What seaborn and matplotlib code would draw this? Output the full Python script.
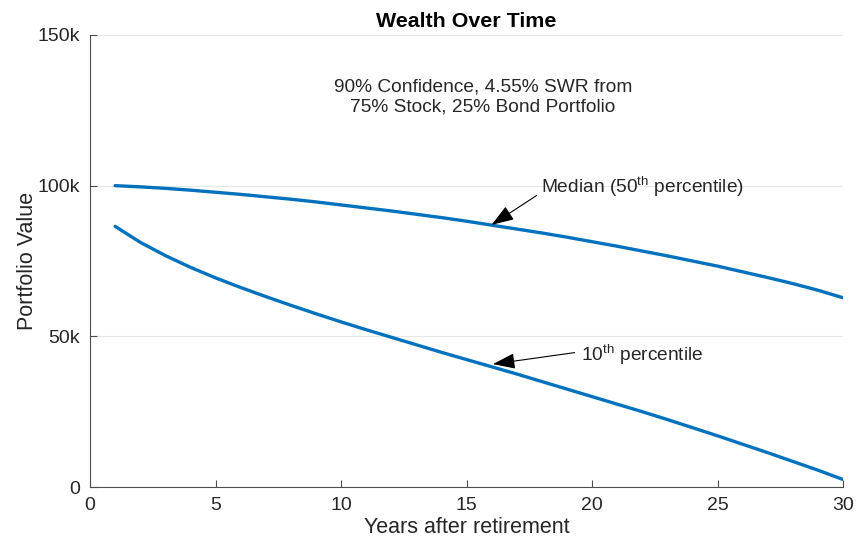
import pandas as pd
import matplotlib
matplotlib.use('Agg')
import matplotlib.pyplot as plt
import seaborn as sns
from matplotlib.ticker import FuncFormatter

years = list(range(1, 31))
median = [100.0, 99.6, 99.1, 98.5, 97.8, 97.1, 96.3, 95.5, 94.6, 93.6,
          92.6, 91.6, 90.5, 89.4, 88.2, 86.9, 85.6, 84.3, 82.9, 81.4,
          79.9, 78.3, 76.7, 75.0, 73.3, 71.4, 69.5, 67.5, 65.3, 62.8]
pct10 = [86.5, 81.2, 76.8, 72.9, 69.4, 66.2, 63.2, 60.3, 57.5, 54.8,
         52.2, 49.7, 47.2, 44.7, 42.3, 39.9, 37.5, 35.0, 32.5, 30.0,
         27.5, 25.0, 22.4, 19.7, 17.0, 14.2, 11.4, 8.5, 5.6, 2.5]

median_k = [v * 1000 for v in median]
pct10_k = [v * 1000 for v in pct10]

df = pd.DataFrame({'year': years + years,
                   'value': median_k + pct10_k,
                   'series': ['median'] * 30 + ['p10'] * 30})

sns.set_style("ticks")
plt.rcParams['font.family'] = ['Liberation Sans', 'DejaVu Sans']
plt.rcParams['mathtext.fontset'] = 'custom'
plt.rcParams['mathtext.rm'] = 'Liberation Sans'
plt.rcParams['mathtext.it'] = 'Liberation Sans'

blue = '#0072BD'
dark = '#262626'

fig = plt.figure(figsize=(8.64, 5.46), dpi=100)
ax = fig.add_axes([0.1042, 0.108, 0.8715, 0.828])

sns.lineplot(data=df, x='year', y='value', hue='series', units='series',
             estimator=None, palette=[blue, blue], linewidth=2.4,
             legend=False, ax=ax)

ax.set_xlim(0, 30)
ax.set_ylim(0, 150000)
ax.set_xticks([0, 5, 10, 15, 20, 25, 30])
ax.set_yticks([0, 50000, 100000, 150000])
ax.yaxis.set_major_formatter(FuncFormatter(lambda v, p: '0' if v == 0 else f'{int(v/1000)}k'))
ax.yaxis.grid(True, color='#e6e6e6', linewidth=0.8)
ax.set_axisbelow(True)
for s in ['top', 'right']:
    ax.spines[s].set_visible(False)
for s in ['left', 'bottom']:
    ax.spines[s].set_color('#4d4d4d')
    ax.spines[s].set_linewidth(0.8)
ax.tick_params(direction='in', length=5, width=0.8, colors='#4d4d4d',
               labelcolor=dark, labelsize=14, pad=7)

ax.set_xlabel('Years after retirement', fontsize=15.5, color=dark, labelpad=2)
ax.set_ylabel('Portfolio Value', fontsize=15.5, color=dark, labelpad=0)
ax.set_title('Wealth Over Time', fontsize=15.4, fontweight='bold', color='black', pad=6)

ax.text(15.65, 129500, '90% Confidence, 4.55% SWR from\n75% Stock, 25% Bond Portfolio',
        ha='center', va='center', fontsize=13.8, color=dark, linespacing=1.25)

arrow = dict(arrowstyle='-|>,head_length=1.0,head_width=0.35', color='black',
             linewidth=0.8, shrinkA=0, shrinkB=0)
ax.annotate(r'Median (50$^{\rm th}$ percentile)', xy=(16.0, 87000),
            xytext=(17.95, 99500), ha='left', va='center', fontsize=13.8, color=dark,
            arrowprops=dict(arrow, relpos=(-0.02, 0.15)))
ax.annotate(r'10$^{\rm th}$ percentile', xy=(16.05, 40800),
            xytext=(19.55, 43800), ha='left', va='center', fontsize=13.8, color=dark,
            arrowprops=dict(arrow, relpos=(-0.05, 0.6)))

fig.savefig('out.png', dpi=100)
